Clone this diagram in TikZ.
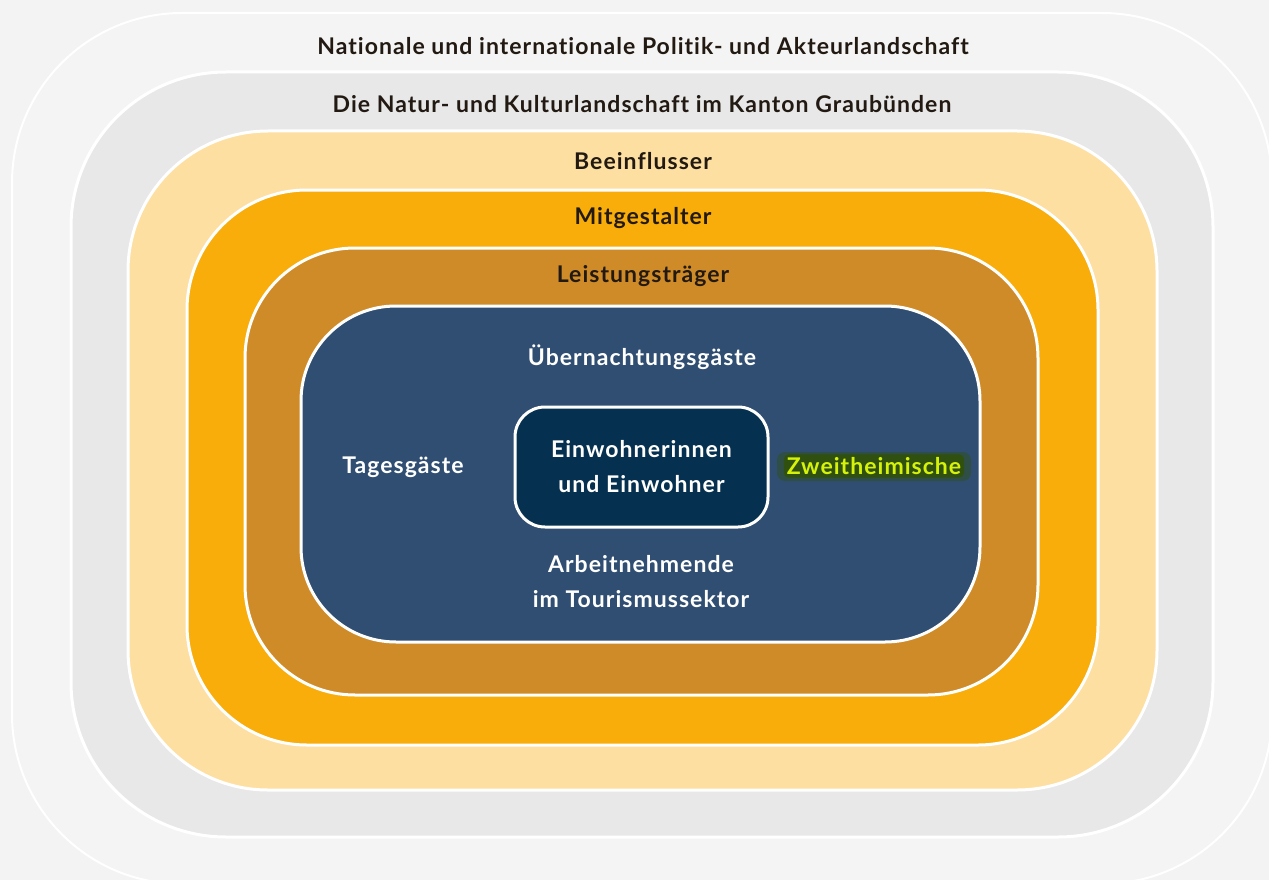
\documentclass[tikz,border=0pt]{standalone}
\usepackage{fontspec}
\setmainfont{Lato}[LetterSpace=4.5,Ligatures=NoCommon]
\usetikzlibrary{positioning}

\definecolor{paper}{HTML}{F3F3F3}
\definecolor{world}{HTML}{F4F4F4}
\definecolor{nature}{HTML}{E8E8E8}
\definecolor{influence}{HTML}{FDDFA2}
\definecolor{shape}{HTML}{F8AD0A}
\definecolor{supply}{HTML}{CF8B27}
\definecolor{guests}{HTML}{2F4E72}
\definecolor{locals}{HTML}{05304F}
\definecolor{ink}{HTML}{221A12}
\definecolor{lime}{HTML}{D6F20A}
\definecolor{glow}{HTML}{30500F}

\begin{document}
\begin{tikzpicture}[x=1pt,y=-1pt,
    ring/.style={draw=white,line width=3pt},
    layer/.style={font=\fontsize{23}{25}\selectfont\bfseries,text=ink},
    guest/.style={font=\fontsize{23}{35}\selectfont\bfseries,text=white,align=center}]

  % canvas
  \fill[paper] (0,0) rectangle (1269,880);
  \useasboundingbox (0,0) rectangle (1269,880);
  \clip (0,0) rectangle (1269,880);

  % the rings, outside in
  \draw[ring,fill=world,line width=2pt,rounded corners=170] (12,13) rectangle (1272,884);
  \draw[ring,fill=nature,rounded corners=155] (71,72) rectangle (1213,837);
  \draw[ring,fill=influence,rounded corners=140] (128,131) rectangle (1157,790);
  \draw[ring,fill=shape,rounded corners=120] (187,190) rectangle (1098,745);
  \draw[ring,fill=supply,rounded corners=110] (245,248) rectangle (1038,695);
  \draw[ring,fill=guests,rounded corners=95] (301,306) rectangle (980,642);

  \node[layer] (politics) at (643,46)  {Nationale und internationale Politik- und Akteurlandschaft};
  \node[layer] (nature)   at (642,104) {Die Natur- und Kulturlandschaft im Kanton Graubünden};
  \node[layer] (influ)    at (643,161) {Beeinflusser};
  \node[layer] (shaper)   at (643,218) {Mitgestalter};
  \node[layer] (supply)   at (643,276) {Leistungsträger};

  % core
  \node[guest,ring,fill=locals,rounded corners=30,minimum width=253,minimum height=120]
    (home) at (641.5,467) {Einwohnerinnen\\und Einwohner};

  \node[guest] (night) at (642,357) {Übernachtungsgäste};
  \node[guest] (day)   at (403,467) {Tagesgäste};
  \node[guest] (work)  at (641,582) {Arbeitnehmende\\im Tourismussektor};
  % soft halo behind the highlighted label
  \fill[glow,opacity=0.45,rounded corners=8] (777,452) rectangle (971,481);
  \node[guest,text=lime,fill=glow,rounded corners=5,inner sep=3pt] (second) at (874,466) {Zweitheimische};
\end{tikzpicture}
\end{document}
